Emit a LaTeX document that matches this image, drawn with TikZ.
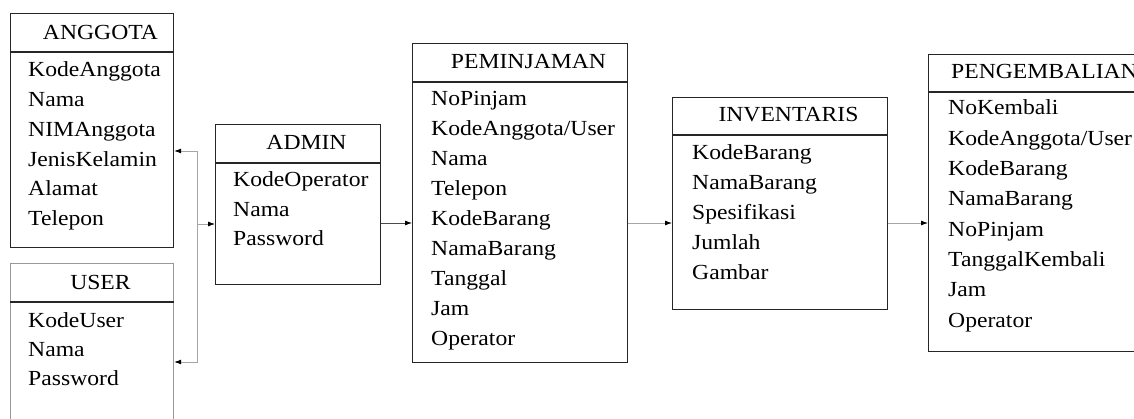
\documentclass[tikz,border=0pt]{standalone}
\usepackage{fontspec}
\setmainfont{Liberation Serif}[FakeStretch=1.1]
\usepackage{tikz}
\usetikzlibrary{arrows.meta, positioning, calc}

\begin{document}
\begin{tikzpicture}[x=1pt, y=-1pt, >={Latex[length=7pt, width=5pt, color=black]},
        font=\fontsize{21.5}{30}\selectfont,
        entity/.style={draw=black!85, line width=1.2pt, inner sep=0pt, anchor=north west},
        rule/.style={black!85, line width=1.2pt},
        title/.style={anchor=base, inner sep=0pt},
        field/.style={anchor=base west, inner sep=0pt},
        link/.style={gray!70, line width=0.8pt}]
        \useasboundingbox (0,0) rectangle (1134,419);
        \clip (0,0) rectangle (1134,419);

        % --- ANGGOTA ---
        \node[entity, minimum width=163pt, minimum height=234pt] (anggota) at (10,13) {};
        \draw[rule] (anggota.west |- 0,52) -- (anggota.east |- 0,52);
        \node[title] (anggota-t) at (100.5,40) {ANGGOTA};
        \foreach \f [count=\i] in {KodeAnggota,Nama,NIMAnggota,JenisKelamin,Alamat,Telepon}
            \node[field] (anggota-\i) at (28,{77+29.7*(\i-1)}) {\f};

        % --- USER, runs off the bottom edge ---
        \node[entity, draw=gray!80, minimum width=163pt, minimum height=180pt] (user) at (10,263) {};
        \draw[rule] (user.west |- 0,302) -- (user.east |- 0,302);
        \node[title] (user-t) at (100.5,290) {USER};
        \foreach \f [count=\i] in {KodeUser,Nama,Password}
            \node[field] (user-\i) at (28,{327+29*(\i-1)}) {\f};

        % --- ADMIN ---
        \node[entity, minimum width=165pt, minimum height=160pt] (admin) at (215,124) {};
        \draw[rule] (admin.west |- 0,163) -- (admin.east |- 0,163);
        \node[title] (admin-t) at (306.5,150) {ADMIN};
        \foreach \f [count=\i] in {KodeOperator,Nama,Password}
            \node[field] (admin-\i) at (233,{187+29.5*(\i-1)}) {\f};

        % --- PEMINJAMAN ---
        \node[entity, minimum width=215pt, minimum height=319pt] (peminjaman) at (412,43) {};
        \draw[rule] (peminjaman.west |- 0,82) -- (peminjaman.east |- 0,82);
        \node[title] (peminjaman-t) at (528.5,69) {PEMINJAMAN};
        \foreach \f [count=\i] in {NoPinjam,KodeAnggota/User,Nama,Telepon,KodeBarang,NamaBarang,Tanggal,Jam,Operator}
            \node[field] (peminjaman-\i) at (431,{106+29.9*(\i-1)}) {\f};

        % --- INVENTARIS ---
        \node[entity, minimum width=215pt, minimum height=212pt] (inventaris) at (672,97) {};
        \draw[rule] (inventaris.west |- 0,135) -- (inventaris.east |- 0,135);
        \node[title] (inventaris-t) at (788.5,122) {INVENTARIS};
        \foreach \f [count=\i] in {KodeBarang,NamaBarang,Spesifikasi,Jumlah,Gambar}
            \node[field] (inventaris-\i) at (692,{160+30*(\i-1)}) {\f};

        % --- PENGEMBALIAN, runs off the right edge ---
        \node[entity, minimum width=215pt, minimum height=297pt] (pengembalian) at (928,54) {};
        \draw[rule] (pengembalian.west |- 0,92) -- (pengembalian.east |- 0,92);
        \node[title] (pengembalian-t) at (1044.5,79) {PENGEMBALIAN};
        \foreach \f [count=\i] in {NoKembali,KodeAnggota/User,KodeBarang,NamaBarang,NoPinjam,TanggalKembali,Jam,Operator}
            \node[field] (pengembalian-\i) at (948,{115+30.3*(\i-1)}) {\f};

        % --- connectors ---
        \coordinate (split) at (197,224);
        \coordinate (flow) at (0,223);
        \draw[link, ->] (split) |- (anggota.east |- 0,151);
        \draw[link, ->] (split) |- (user.east |- 0,362);
        \draw[link, ->] (split) -- (admin.west |- split);
        \draw[link, black!70, ->] (admin.east |- flow) -- (peminjaman.west |- flow);
        \draw[link, ->] (peminjaman.east |- flow) -- (inventaris.west |- flow);
        \draw[link, ->] (inventaris.east |- flow) -- (pengembalian.west |- flow);
\end{tikzpicture}
\end{document}
